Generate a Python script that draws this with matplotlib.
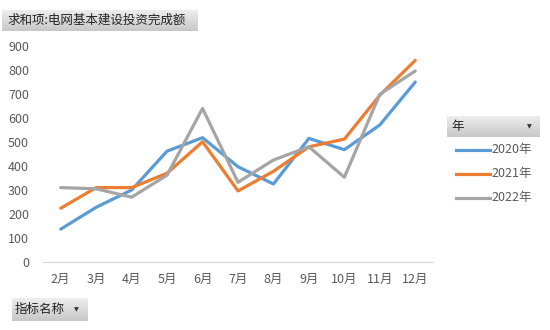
import matplotlib
matplotlib.use("Agg")
import matplotlib.pyplot as plt
import numpy as np

plt.rcParams['font.family'] = ['Noto Sans CJK SC', 'DejaVu Sans']

months = ["2月", "3月", "4月", "5月", "6月", "7月", "8月", "9月", "10月", "11月", "12月"]
series_names = ["2020年", "2021年", "2022年"]
v2020 = [137, 228, 300, 462, 518, 397, 325, 515, 468, 571, 750]
v2021 = [224, 310, 310, 370, 501, 296, 378, 480, 512, 695, 840]
v2022 = [310, 305, 270, 362, 640, 332, 425, 480, 353, 699, 796]
yticks = [0, 100, 200, 300, 400, 500, 600, 700, 800, 900]
colors = ["#5B9BD5", "#ED7D31", "#A5A5A5"]

W, H = 550, 330
fig = plt.figure(figsize=(W / 100, H / 100), dpi=100)
fig.patch.set_facecolor("white")

def fx(px):
    return px / W

def fy(py):
    return 1 - py / H

ax = fig.add_axes([fx(43), fy(262), fx(433 - 43), fy(46) - fy(262)])
x = np.arange(len(months))
for vals, c, name in zip([v2020, v2021, v2022], colors, series_names):
    ax.plot(x, vals, color=c, lw=2.3, solid_capstyle="round", solid_joinstyle="round", label=name)
ax.set_xlim(-0.5, len(months) - 0.5)
ax.set_ylim(0, 900)
ax.set_yticks(yticks)
ax.set_xticks(x)
ax.set_xticklabels(months)
for s in ["top", "right", "left"]:
    ax.spines[s].set_visible(False)
ax.spines["bottom"].set_color("#D9D9D9")
ax.tick_params(axis="both", length=0, labelsize=9, colors="#595959")
ax.tick_params(axis="x", pad=8)
ax.tick_params(axis="y", pad=10)

def gradient_box(x0, y0, x1, y1):
    bax = fig.add_axes([fx(x0), fy(y1), fx(x1 - x0), fy(y0) - fy(y1)])
    grad = np.linspace(0.93, 0.78, 50).reshape(-1, 1)
    grad = np.repeat(grad, 2, axis=1)
    bax.imshow(grad, cmap="gray", vmin=0, vmax=1, aspect="auto", extent=[0, 1, 1, 0])
    bax.set_xlim(0, 1)
    bax.set_ylim(1, 0)
    bax.axis("off")
    return bax

gradient_box(2, 10, 197, 31)
fig.text(fx(7), fy(20.5), "求和项:电网基本建设投资完成额", fontsize=9, va="center", ha="left", color="#222222")

gradient_box(12, 298, 88, 321)
fig.text(fx(15), fy(309.5), "指标名称", fontsize=9, va="center", ha="left", color="#222222")
fig.text(fx(76), fy(310), "▼", fontsize=4.5, va="center", ha="center", color="#333333", family="DejaVu Sans")

gradient_box(447, 116, 540, 137)
fig.text(fx(451), fy(126.5), "年", fontsize=9, va="center", ha="left", color="#222222")
fig.text(fx(529), fy(127), "▼", fontsize=4.5, va="center", ha="center", color="#333333", family="DejaVu Sans")

leg_y = [150, 174, 198]
for yy, c, name in zip(leg_y, colors, series_names):
    fig.add_artist(plt.Line2D([fx(456), fx(490)], [fy(yy), fy(yy)], color=c, lw=2.3))
    fig.text(fx(491), fy(yy), name, fontsize=9, va="center", ha="left", color="#595959")

fig.savefig("out.png", dpi=100)
